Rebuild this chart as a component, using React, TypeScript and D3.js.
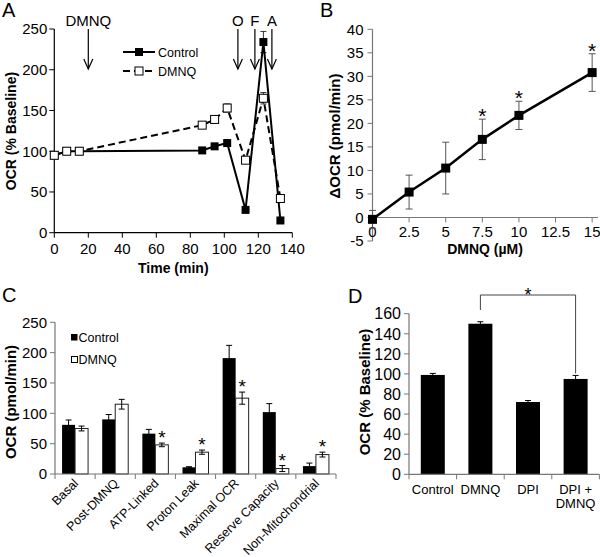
import React from 'react';
import * as d3 from 'd3';

const FONT = "'Liberation Sans', Arial, Helvetica, sans-serif";

// ---------- Panel A data ----------
const timeA = [0, 7.3, 14.7, 87, 94.3, 101.7, 112.5, 123, 133];
const controlA = [95, 100, 100, 101, 106, 110, 28, 234, 15];
const controlAErr = [1, 1, 1, 2, 3, 4, 3, 13, 3];
const dmnqA = [95, 100, 100, 132, 139, 153, 89, 165, 42];
const dmnqAErr = [1, 1, 1, 3, 4, 5, 4, 7, 3];
const arrowLabelsA = ['DMNQ', 'O', 'F', 'A'];
const arrowTimesA = [20, 108, 118, 128];
const xTicksA = [0, 20, 40, 60, 80, 100, 120, 140];
const yTicksA = [0, 50, 100, 150, 200, 250];

// ---------- Panel B data ----------
const doseB = [0, 2.5, 5, 7.5, 10, 15];
const deltaB = [-0.4, 5.4, 10.5, 16.6, 21.7, 30.8];
const errB = [1.9, 3.6, 5.5, 4.3, 3.0, 4.0];
const sigB = [false, false, false, true, true, true];
const xTicksB = [0, 2.5, 5, 7.5, 10, 12.5, 15];
const yTicksB = [-5, 0, 5, 10, 15, 20, 25, 30, 35, 40];

// ---------- Panel C data ----------
const categoriesC = ['Basal', 'Post-DMNQ', 'ATP-Linked', 'Proton Leak', 'Maximal OCR', 'Reserve Capacity', 'Non-Mitochondrial'];
const controlC = [81, 90, 66.5, 11, 191, 102, 13];
const controlCErr = [8, 8, 7, 1, 21, 14, 5];
const dmnqC = [75, 115, 48, 36, 125, 9, 32];
const dmnqCErr = [4, 8, 3, 3.5, 10, 5, 4];
const sigC = [false, false, true, true, true, true, true];
const yTicksC = [0, 50, 100, 150, 200, 250];

// ---------- Panel D data ----------
const categoriesD = ['Control', 'DMNQ', 'DPI', 'DPI +\nDMNQ'];
const valuesD = [99, 150, 72, 95];
const errD = [1.5, 2, 1.5, 3.5];
const yTicksD = [0, 20, 40, 60, 80, 100, 120, 140, 160];

const TICK_FS = 15;
const TITLE_FS = 14;

function ErrBar({ x, y1, y2, w, stroke, sw = 1 }: any) {
  return (
    <g stroke={stroke} strokeWidth={sw}>
      <line x1={x} x2={x} y1={y1} y2={y2} />
      <line x1={x - w / 2} x2={x + w / 2} y1={y1} y2={y1} />
      <line x1={x - w / 2} x2={x + w / 2} y1={y2} y2={y2} />
    </g>
  );
}

function PanelA() {
  const x = d3.scaleLinear().domain([0, 140]).range([54.3, 292.3]);
  const y = d3.scaleLinear().domain([0, 250]).range([232.7, 29]);
  const line = d3.line<number>().x((_, i) => x(timeA[i])).y((d) => y(d));
  const ms = 8;
  return (
    <g fontFamily={FONT}>
      <text x={2} y={17} fontSize={20}>A</text>
      <line x1={x(0)} x2={x(0)} y1={y(250)} y2={y(0)} stroke="#000" strokeWidth={1.2} />
      <line x1={x(0)} x2={x(140)} y1={y(0)} y2={y(0)} stroke="#000" strokeWidth={1.2} />
      {yTicksA.map((t) => (
        <g key={'ya' + t}>
          <line x1={x(0) - 5} x2={x(0)} y1={y(t)} y2={y(t)} stroke="#000" />
          <text x={x(0) - 7} y={y(t)} dy="0.36em" textAnchor="end" fontSize={TICK_FS}>{t}</text>
        </g>
      ))}
      {xTicksA.map((t) => (
        <g key={'xa' + t}>
          <line x1={x(t)} x2={x(t)} y1={y(0)} y2={y(0) + 5} stroke="#000" />
          <text x={x(t)} y={y(0) + 21} textAnchor="middle" fontSize={TICK_FS}>{t}</text>
        </g>
      ))}
      <text x={x(70)} y={273} textAnchor="middle" fontSize={TITLE_FS} fontWeight="bold">Time (min)</text>
      <text transform={`translate(11,${131}) rotate(-90)`} dy="0.36em" textAnchor="middle" fontSize={TITLE_FS} fontWeight="bold">OCR (% Baseline)</text>
      {arrowTimesA.map((t, i) => (
        <g key={'arr' + i} stroke="#000" strokeWidth={1.2} fill="none">
          <line x1={x(t)} x2={x(t)} y1={29} y2={69} />
          <polyline points={`${x(t) - 4.5},${59} ${x(t)},${69} ${x(t) + 4.5},${59}`} />
        </g>
      ))}
      {arrowTimesA.map((t, i) => (
        <text key={'arrl' + i} x={x(t)} y={26} textAnchor="middle" fontSize={TITLE_FS + 1}>{arrowLabelsA[i]}</text>
      ))}
      <line x1={123} x2={155} y1={52} y2={52} stroke="#000" strokeWidth={2} />
      <rect x={139 - ms / 2} y={52 - ms / 2} width={ms} height={ms} fill="#000" />
      <text x={158} y={56.5} fontSize={12.5}>Control</text>
      <line x1={123} x2={155} y1={71} y2={71} stroke="#000" strokeWidth={2} strokeDasharray="7,4" />
      <rect x={139 - ms / 2} y={71 - ms / 2} width={ms} height={ms} fill="#fff" stroke="#000" strokeWidth={1} />
      <text x={158} y={75.5} fontSize={12.5}>DMNQ</text>
      {controlA.map((v, i) => (
        <ErrBar key={'cea' + i} x={x(timeA[i])} y1={y(v + controlAErr[i])} y2={y(v - controlAErr[i])} w={6} stroke="#333" />
      ))}
      <path d={line(controlA) || ''} fill="none" stroke="#000" strokeWidth={2} />
      {controlA.map((v, i) => (
        <rect key={'cma' + i} x={x(timeA[i]) - ms / 2} y={y(v) - ms / 2} width={ms} height={ms} fill="#000" />
      ))}
      {dmnqA.map((v, i) => (
        <ErrBar key={'dea' + i} x={x(timeA[i])} y1={y(v + dmnqAErr[i])} y2={y(v - dmnqAErr[i])} w={6} stroke="#333" />
      ))}
      <path d={line(dmnqA) || ''} fill="none" stroke="#000" strokeWidth={2} strokeDasharray="7,4" />
      {dmnqA.map((v, i) => (
        <rect key={'dma' + i} x={x(timeA[i]) - ms / 2} y={y(v) - ms / 2} width={ms} height={ms} fill="#fff" stroke="#000" strokeWidth={1} />
      ))}
    </g>
  );
}

function PanelB() {
  const x = d3.scaleLinear().domain([0, 15.4]).range([372.5, 598]);
  const y = d3.scaleLinear().domain([-5, 40]).range([241, 29.3]);
  const line = d3.line<number>().x((_, i) => x(doseB[i])).y((d) => y(d));
  const ms = 9;
  const axis = '#777';
  return (
    <g fontFamily={FONT}>
      <text x={320} y={17} fontSize={20}>B</text>
      <line x1={x(0)} x2={x(0)} y1={y(40)} y2={y(-5)} stroke={axis} strokeWidth={1.2} />
      <line x1={x(0)} x2={x(15.4)} y1={y(0)} y2={y(0)} stroke={axis} strokeWidth={1.2} />
      {yTicksB.map((t) => (
        <g key={'yb' + t}>
          <line x1={x(0) - 5} x2={x(0)} y1={y(t)} y2={y(t)} stroke={axis} />
          <text x={x(0) - 9} y={y(t)} dy="0.36em" textAnchor="end" fontSize={TICK_FS}>{t}</text>
        </g>
      ))}
      {xTicksB.map((t) => (
        <g key={'xb' + t}>
          <line x1={x(t)} x2={x(t)} y1={y(0)} y2={y(0) + 5} stroke={axis} />
          <text x={x(t)} y={y(0) + 20} textAnchor="middle" fontSize={TICK_FS}>{t}</text>
        </g>
      ))}
      <text x={485} y={254} textAnchor="middle" fontSize={TITLE_FS} fontWeight="bold">DMNQ (µM)</text>
      <text transform={`translate(335,${136}) rotate(-90)`} dy="0.36em" textAnchor="middle" fontSize={TITLE_FS + 1} fontWeight="bold">ΔOCR (pmol/min)</text>
      {deltaB.map((v, i) => (
        <ErrBar key={'eb' + i} x={x(doseB[i])} y1={y(v + errB[i])} y2={y(v - errB[i])} w={7} stroke="#555" />
      ))}
      <path d={line(deltaB) || ''} fill="none" stroke="#000" strokeWidth={2.5} />
      {deltaB.map((v, i) => (
        <rect key={'mb' + i} x={x(doseB[i]) - ms / 2} y={y(v) - ms / 2} width={ms} height={ms} fill="#000" />
      ))}
      {deltaB.map((v, i) =>
        sigB[i] ? (
          <text key={'sb' + i} x={x(doseB[i])} y={y(v + errB[i]) + 4} textAnchor="middle" fontSize={21}>*</text>
        ) : null
      )}
    </g>
  );
}

function PanelC() {
  const x = d3.scaleBand<string>().domain(categoriesC).range([55, 336]).paddingInner(0).paddingOuter(0);
  const y = d3.scaleLinear().domain([0, 250]).range([474, 322.3]);
  const bw = x.bandwidth();
  const barW = 13;
  const inner = d3.scaleBand<string>().domain(['c', 'd']).range([(bw - 2 * barW) / 2, (bw + 2 * barW) / 2]);
  const axis = '#777';
  const bounds = d3.range(categoriesC.length + 1).map((i) => 55 + i * bw);
  return (
    <g fontFamily={FONT}>
      <text x={2} y={302} fontSize={20}>C</text>
      {categoriesC.map((c, i) => {
        const x0 = x(c) || 0;
        const xc = x0 + (inner('c') || 0);
        const xd = x0 + (inner('d') || 0);
        return (
          <g key={'gc' + i}>
            <rect x={xc} y={y(controlC[i])} width={barW} height={y(0) - y(controlC[i])} fill="#000" />
            <ErrBar x={xc + barW / 2} y1={y(controlC[i] + controlCErr[i])} y2={y(controlC[i] - controlCErr[i])} w={6} stroke="#000" />
            <rect x={xd} y={y(dmnqC[i])} width={barW} height={y(0) - y(dmnqC[i])} fill="#fff" stroke="#222" strokeWidth={1} />
            <ErrBar x={xd + barW / 2} y1={y(dmnqC[i] + dmnqCErr[i])} y2={y(dmnqC[i] - dmnqCErr[i])} w={6} stroke="#000" />
            {sigC[i] ? (
              <text x={xd + barW / 2} y={y(dmnqC[i] + dmnqCErr[i]) + 1} textAnchor="middle" fontSize={19}>*</text>
            ) : null}
          </g>
        );
      })}
      <line x1={55} x2={55} y1={y(250)} y2={y(0)} stroke={axis} strokeWidth={1.2} />
      <line x1={55} x2={336} y1={y(0)} y2={y(0)} stroke={axis} strokeWidth={1.2} />
      {yTicksC.map((t) => (
        <g key={'yc' + t}>
          <line x1={50} x2={55} y1={y(t)} y2={y(t)} stroke={axis} />
          <text x={47} y={y(t)} dy="0.36em" textAnchor="end" fontSize={TICK_FS}>{t}</text>
        </g>
      ))}
      {bounds.map((b, i) => (
        <line key={'xtc' + i} x1={b} x2={b} y1={y(0)} y2={y(0) + 5} stroke={axis} />
      ))}
      {categoriesC.map((c, i) => {
        const cx = (x(c) || 0) + bw / 2 + 4;
        return (
          <text key={'lc' + i} transform={`translate(${cx},${484}) rotate(-45)`} textAnchor="end" fontSize={12.5}>{c}</text>
        );
      })}
      <text transform={`translate(11,${402}) rotate(-90)`} dy="0.36em" textAnchor="middle" fontSize={TITLE_FS + 1} fontWeight="bold">OCR (pmol/min)</text>
      <rect x={71} y={334} width={6.5} height={6.5} fill="#000" />
      <text x={78.5} y={341.5} fontSize={12.5}>Control</text>
      <rect x={71.5} y={356.5} width={6} height={6} fill="#fff" stroke="#000" strokeWidth={1} />
      <text x={78.5} y={363.5} fontSize={12.5}>DMNQ</text>
    </g>
  );
}

function PanelD() {
  const x = d3.scaleBand<string>().domain(categoriesD).range([409, 599.4]).paddingInner(0).paddingOuter(0);
  const y = d3.scaleLinear().domain([0, 160]).range([474.3, 313.7]);
  const bw = x.bandwidth();
  const barW = 24;
  const axis = '#777';
  const bounds = d3.range(categoriesD.length + 1).map((i) => 409 + i * bw);
  const c1 = (x(categoriesD[1]) || 0) + bw / 2;
  const c3 = (x(categoriesD[3]) || 0) + bw / 2;
  return (
    <g fontFamily={FONT}>
      <text x={348} y={303} fontSize={20}>D</text>
      {categoriesD.map((c, i) => {
        const cx = (x(c) || 0) + bw / 2;
        return (
          <g key={'gd' + i}>
            <rect x={cx - barW / 2} y={y(valuesD[i])} width={barW} height={y(0) - y(valuesD[i])} fill="#000" />
            <ErrBar x={cx} y1={y(valuesD[i] + errD[i])} y2={y(valuesD[i] - errD[i])} w={6} stroke="#000" />
          </g>
        );
      })}
      <line x1={409} x2={409} y1={y(160)} y2={y(0)} stroke={axis} strokeWidth={1.2} />
      <line x1={409} x2={599.4} y1={y(0)} y2={y(0)} stroke={axis} strokeWidth={1.2} />
      {yTicksD.map((t) => (
        <g key={'yd' + t}>
          <line x1={404} x2={409} y1={y(t)} y2={y(t)} stroke={axis} />
          <text x={401} y={y(t)} dy="0.36em" textAnchor="end" fontSize={TICK_FS + 1}>{t}</text>
        </g>
      ))}
      {bounds.map((b, i) => (
        <line key={'xtd' + i} x1={b} x2={b} y1={y(0)} y2={y(0) + 5} stroke={axis} />
      ))}
      {categoriesD.map((c, i) => {
        const cx = (x(c) || 0) + bw / 2;
        return c.split('\n').map((ln, j) => (
          <text key={'ld' + i + '_' + j} x={cx} y={494 + j * 14} textAnchor="middle" fontSize={13}>{ln}</text>
        ));
      })}
      <text transform={`translate(365,${392}) rotate(-90)`} dy="0.36em" textAnchor="middle" fontSize={TITLE_FS + 1} fontWeight="bold">OCR (% Baseline)</text>
      <polyline points={`${c1},310 ${c1},295 ${c3},295 ${c3},${y(valuesD[3] + errD[3]) - 2}`} fill="none" stroke="#444" strokeWidth={1} />
      <text x={(c1 + c3) / 2} y={301} textAnchor="middle" fontSize={18}>*</text>
    </g>
  );
}

export default function App() {
  return (
    <svg width={600} height={557} viewBox="0 0 600 557" style={{ position: 'absolute', left: 0, top: 0, background: '#fff' }}>
      <rect x={0} y={0} width={600} height={557} fill="#fff" />
      <PanelA />
      <PanelB />
      <PanelC />
      <PanelD />
    </svg>
  );
}
